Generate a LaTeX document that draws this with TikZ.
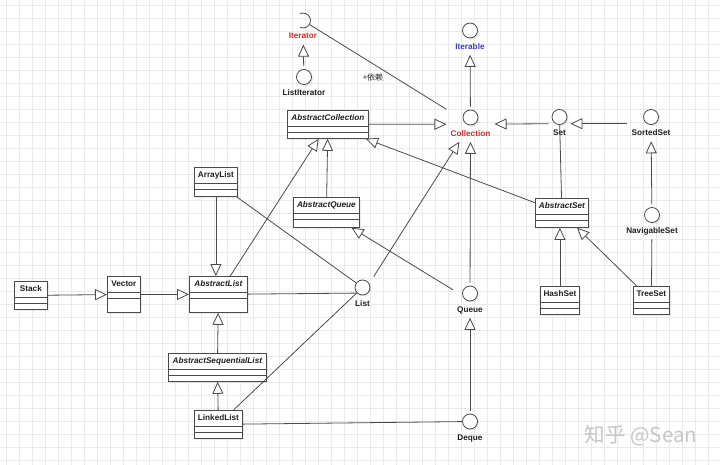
\documentclass[tikz,border=0pt]{standalone}
\usepackage{fontspec}
\setmainfont{Liberation Sans}
\newfontfamily\cjkfont{Noto Sans CJK SC}
\usepackage{tikz}
\usetikzlibrary{arrows.meta,positioning,fit,shadows}
\definecolor{UmlInk}{HTML}{1E1E1E}
\definecolor{UmlLine}{HTML}{4A4A4A}
\definecolor{UmlRed}{HTML}{D42A2A}
\definecolor{UmlBlue}{HTML}{3C3CC0}
\definecolor{UmlGrid}{HTML}{EAEAEA}
\definecolor{UmlMark}{HTML}{C6C6C6}
\tikzset{
  umltext/.style={font=\fontsize{8.2}{9}\selectfont\bfseries, text=UmlInk},
  umlshadow/.style={drop shadow={shadow xshift=1.6pt, shadow yshift=-1.6pt, opacity=.15}},
  clsbox/.style={draw=UmlLine, line width=.8pt, fill=white, anchor=north west, inner sep=0pt, umlshadow},
  clsname/.style={umltext, inner sep=0pt, text height=6pt, text depth=1.5pt},
  clsline/.style={draw=UmlLine, line width=.8pt},
  ifcnode/.style={circle, draw=UmlLine, line width=.8pt, fill=white, minimum size=15pt, inner sep=0pt, umlshadow},
  socknode/.style={circle, minimum size=15pt, inner sep=0pt},
  ifclabel/.style={umltext, inner sep=1pt, text height=6pt, text depth=1.5pt},
  ifcbox/.style={inner sep=0pt, outer sep=3pt},
  deplabel/.style={font=\cjkfont\fontsize{8}{9}\selectfont, text=UmlInk, inner sep=0pt},
  gen/.style={draw=UmlLine, line width=.8pt, -{Triangle[open, length=12pt, width=11pt, fill=white]}},
  assoc/.style={draw=UmlLine, line width=.8pt},
  gridline/.style={draw=UmlGrid, line width=.6pt},
  watermark/.style={font=\cjkfont\fontsize{20.5}{21}\selectfont, text=UmlMark, inner sep=0pt}
}
% class box: name, top-left, width, height, title
\newcommand{\umlclass}[5]{%
  \node[clsbox, minimum width=#3, minimum height=#4] (#1) at #2 {};
  \node[clsname] (#1-n) at ([yshift=-8.5pt]#1.north) {#5};
  \draw[clsline] ([yshift=-16pt]#1.north west) -- ([yshift=-16pt]#1.north east);
  \draw[clsline] ([yshift=-22pt]#1.north west) -- ([yshift=-22pt]#1.north east);
}
% interface lollipop: style, name, centre, label, colour
\newcommand{\umlifc}[5][ifcnode]{%
  \node[#1] (#2-c) at #3 {};
  \node[ifclabel, text=#5, below=3.5pt of #2-c] (#2-l) {#4};
  \node[ifcbox, fit=(#2-c)(#2-l)] (#2) {};
}

\begin{document}
\begin{tikzpicture}[x=1pt, y=-1pt]
\useasboundingbox (0,0) rectangle (720,465);
\fill[white] (0,0) rectangle (720,465);
\foreach \gx in {0,...,54} \draw[gridline] (6.5+13*\gx,0) -- (6.5+13*\gx,465);
\foreach \gy in {0,...,35} \draw[gridline] (0,5+13*\gy) -- (720,5+13*\gy);

% interfaces
\umlifc[socknode]{Iterator}{(303,20.5)}{Iterator}{UmlRed}
\draw[assoc] ([shift={(115:7.5pt)}]Iterator-c.center) arc[start angle=115, end angle=-115, radius=7.5pt];
\umlifc{ListIterator}{(304,77)}{ListIterator}{UmlInk}
\umlifc{Iterable}{(470,30.5)}{Iterable}{UmlBlue}
\umlifc{Collection}{(470.5,117.5)}{Collection}{UmlRed}
\umlifc{Set}{(559.5,117)}{Set}{UmlInk}
\umlifc{SortedSet}{(651,117)}{SortedSet}{UmlInk}
\umlifc{NavigableSet}{(652,215)}{NavigableSet}{UmlInk}
\umlifc{List}{(362.5,287.5)}{List}{UmlInk}
\umlifc{Queue}{(470,293.5)}{Queue}{UmlInk}
\umlifc{Deque}{(470,421.5)}{Deque}{UmlInk}

% classes
\umlclass{absColl}{(287,110)}{81pt}{28pt}{\itshape AbstractCollection}
\umlclass{arrayList}{(194,167)}{43pt}{29pt}{ArrayList}
\umlclass{absQueue}{(293,197)}{66pt}{30pt}{\itshape AbstractQueue}
\umlclass{absSet}{(535,198)}{53pt}{29pt}{\itshape AbstractSet}
\umlclass{stack}{(14,281)}{33pt}{28pt}{Stack}
\umlclass{vector}{(107,276)}{33pt}{36pt}{Vector}
\umlclass{absList}{(189,276)}{58pt}{36pt}{\itshape AbstractList}
\umlclass{absSeqList}{(168,353)}{98pt}{28pt}{\itshape AbstractSequentialList}
\umlclass{linkedList}{(194,410)}{48pt}{28pt}{LinkedList}
\umlclass{hashSet}{(540,286)}{39pt}{28pt}{HashSet}
\umlclass{treeSet}{(633,286)}{36pt}{28pt}{TreeSet}

% connectors
\draw[gen] (ListIterator) -- (Iterator);
\draw[gen] (Collection) -- (Iterable);
\draw[assoc] (Collection) -- (Iterator-c);
\node[deplabel] (depLbl) at (373,77) {+依赖};
\draw[gen] (absColl) -- (Collection);
\draw[gen] (Set) -- (Collection);
\draw[gen] (SortedSet) -- (Set);
\draw[gen] (NavigableSet) -- (SortedSet);
\draw[assoc] (Set-c) -- (absSet);
\draw[gen] (hashSet) -- (hashSet |- absSet.south);
\draw[gen] (treeSet) -- (absSet);
\draw[assoc] (treeSet) -- (NavigableSet);
\draw[gen] (absSet) -- (absColl);
\draw[gen] (absQueue) -- (absColl);
\draw[gen] (absList) -- (absColl);
\draw[gen] (List) -- (Collection);
\draw[gen] (Queue) -- (Collection);
\draw[gen] (Queue) -- (absQueue);
\draw[gen] (Deque) -- (Queue);
\draw[gen] (stack) -- (vector);
\draw[gen] (vector) -- (absList);
\draw[gen] (arrayList) -- (arrayList |- absList.north);
\draw[assoc] (arrayList) -- (List-c);
\draw[assoc] (absList) -- (List-c.225);
\draw[gen] (absSeqList) -- (absList);
\draw[gen] (linkedList) -- (absSeqList);
\draw[assoc] (linkedList) -- (List-c);
\draw[assoc] (linkedList) -- (Deque-c);

\node[watermark] (mark) at (641,436) {知乎 @Sean};
\end{tikzpicture}
\end{document}
